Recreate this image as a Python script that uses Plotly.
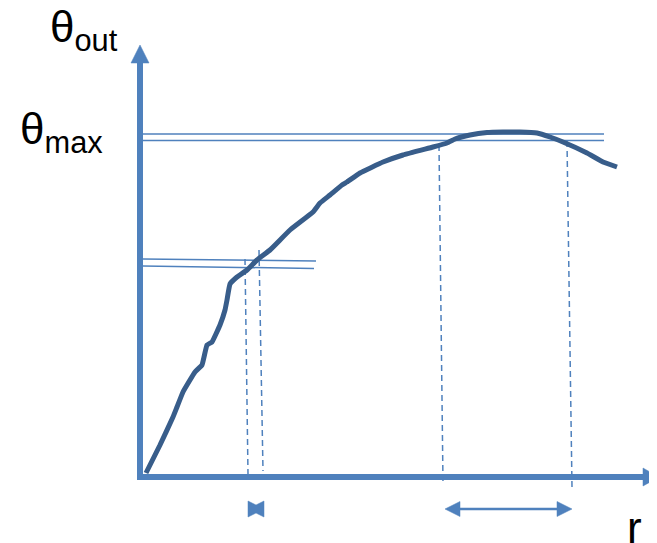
import plotly.graph_objects as go

# sketch of theta_out vs r, units are arbitrary (origin at the axes corner)
r_curve = [6, 20, 33, 37, 43, 55, 62, 67, 72, 80, 85, 87, 90, 97, 107, 117, 130, 150, 173, 180,
           190, 202, 207, 220, 243, 263, 293, 307, 315, 330, 347, 363, 380, 397, 410, 423, 447, 463, 477]
theta_curve = [4, 32, 60, 70, 85, 105, 112, 132, 135, 152, 167, 177, 193, 200, 207, 217, 227, 247, 265, 274,
               282, 292, 295, 304, 315, 322, 330, 334, 338, 342, 344.5, 345, 345, 344, 340, 335, 324, 315, 310]

# pairs of thin horizontal guide lines  (r start, r end, theta start, theta end)
guides = [
    (3, 464, 343, 343),
    (3, 464, 336.5, 336.5),
    (3, 176, 218, 216),
    (3, 174, 211, 208.5),
]
# dashed drop lines down to the r axis
drops = [
    (105, 108, 218, 3),
    (119, 123, 227, 6),
    (299, 303, 332, -6),
    (427, 432, 336, -10),
]
band_wide = (305, 432)   # double arrow under the plateau
band_narrow = (108, 124) # tiny arrow pair under the steep part
arrow_theta = -32

blue = "#4F81BD"
dark = "#385D8A"

fig = go.Figure()


def add_line(x, y, color=blue, width=1.5, dash=None):
    fig.add_trace(go.Scatter(x=x, y=y, mode="lines", hoverinfo="skip",
                             line=dict(color=color, width=width, dash=dash)))


def add_poly(x, y, color=blue):
    fig.add_trace(go.Scatter(x=x, y=y, mode="lines", fill="toself", fillcolor=color,
                             hoverinfo="skip", line=dict(color=color, width=0.5)))


# axes
add_line([0, 0], [-3, 416], width=6)
add_poly([-9, 9, 0, -9], [414, 414, 432, 414])
add_line([-3, 505], [0, 0], width=6)
add_poly([503, 503, 519, 503], [-9, 9, 0, -9])

for r0, r1, t0, t1 in guides:
    add_line([r0, r1], [t0, t1])
for r0, r1, t0, t1 in drops:
    add_line([r0, r1], [t0, t1], dash="6px,4px")

# double arrow
a, b = band_wide
add_line([a + 10, b - 10], [arrow_theta, arrow_theta], width=2.5)
add_poly([a, a + 15, a + 15, a], [arrow_theta, arrow_theta + 7.5, arrow_theta - 7.5, arrow_theta])
add_poly([b, b - 15, b - 15, b], [arrow_theta, arrow_theta + 7.5, arrow_theta - 7.5, arrow_theta])

# little bow-tie
a, b = band_narrow
m = (a + b) / 2
add_poly([a, m, b, b, m, a, a],
         [arrow_theta + 8, arrow_theta + 4, arrow_theta + 8, arrow_theta - 8, arrow_theta - 4, arrow_theta - 8, arrow_theta + 8])

fig.add_trace(go.Scatter(x=r_curve, y=theta_curve, mode="lines", hoverinfo="skip",
                         line=dict(color=dark, width=5, shape="spline", smoothing=0.3)))

font = dict(family="Liberation Sans, Arial, sans-serif", size=44, color="black")
fig.add_annotation(x=-92, y=447, text="θ<sub>out</sub>", showarrow=False,
                   xanchor="left", yanchor="middle", font=font)
fig.add_annotation(x=-122, y=345, text="θ<sub>max</sub>", showarrow=False,
                   xanchor="left", yanchor="middle", font=font)
fig.add_annotation(x=494, y=-50, text="r", showarrow=False,
                   xanchor="center", yanchor="middle", font=font)

# the page body has an 8px margin, so the figure is 8px smaller and starts 8px in
fig.update_layout(
    width=649, height=535,
    margin=dict(l=0, r=0, t=0, b=0),
    paper_bgcolor="white", plot_bgcolor="white",
    showlegend=False,
    xaxis=dict(range=[-132, 517], visible=False, fixedrange=True),
    yaxis=dict(range=[-66, 469], visible=False, fixedrange=True),
)

fig.write_html("out.html")
